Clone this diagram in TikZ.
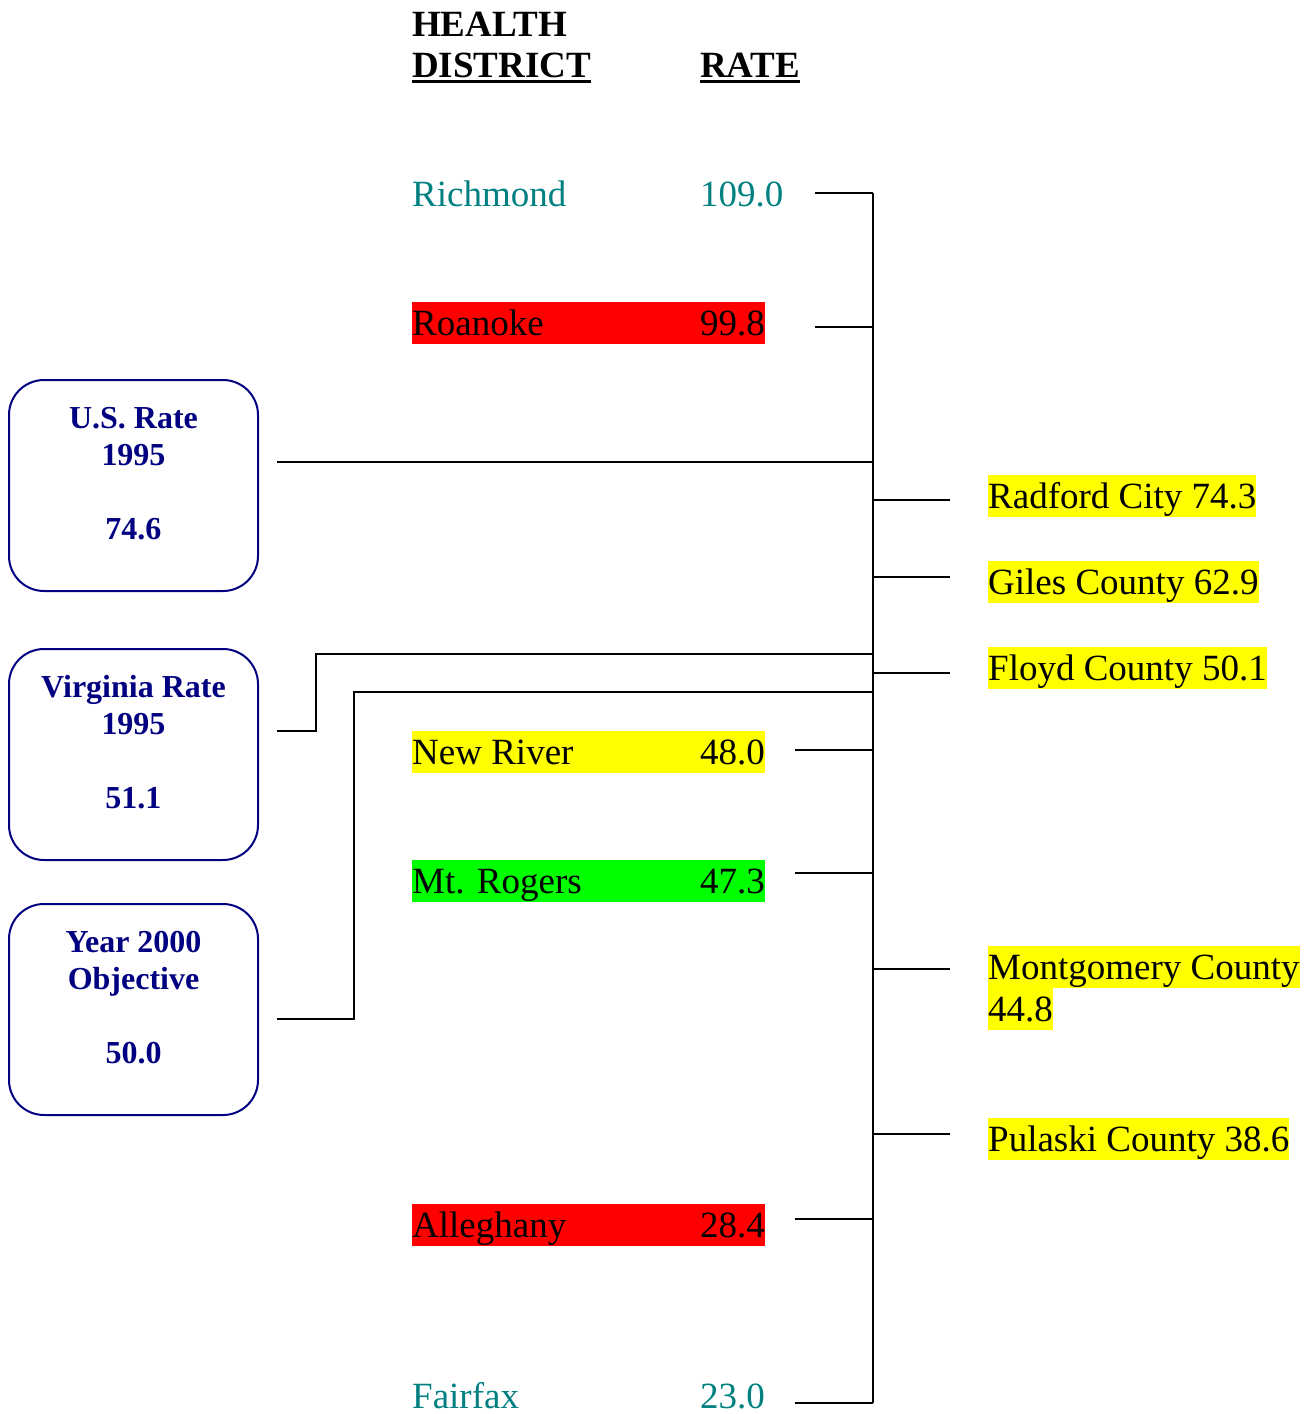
\documentclass[tikz,border=0pt]{standalone}
\usepackage{fontspec}
\setmainfont{Liberation Serif}
\definecolor{navyc}{RGB}{0,0,128}
\definecolor{tealc}{RGB}{0,128,128}
\definecolor{hlred}{RGB}{255,0,0}
\definecolor{hlyel}{RGB}{255,255,0}
\definecolor{hlgrn}{RGB}{0,255,0}
\newcommand\mystrut{\rule[-8.5pt]{0pt}{42pt}}
\newcommand\myul[1]{\setbox0\hbox{#1}\rlap{\rule[-6pt]{\wd0}{3pt}}\box0}
\newcommand\rowtext[2]{\mystrut\makebox[288pt][l]{#1}#2}
\newcommand\plainrow[2]{\makebox[288pt][l]{#1}#2}
\newcommand\hlline[1]{{\fboxsep=0pt\colorbox{hlyel}{\mystrut #1}}}
\begin{document}
\begin{tikzpicture}[x=1pt,y=-1pt,
  bigtxt/.style={font=\fontsize{37}{42}\selectfont, inner sep=0pt, anchor=base west},
  headtxt/.style={font=\fontsize{37}{42}\selectfont\bfseries, inner sep=0pt, anchor=base west},
  boxtxt/.style={font=\fontsize{32}{37}\selectfont\bfseries, text=navyc, align=center, inner sep=0pt},
  ratebox/.style={draw=navyc, line width=2pt, rounded corners=35pt, minimum width=249pt, minimum height=211pt, inner sep=0pt},
  conn/.style={line width=2pt, black}
]
\useasboundingbox (0,0) rectangle (1316,1414);

% headers
\node[headtxt] (hh) at (412,36) {HEALTH};
\node[headtxt] (hd) at (412,77) {\myul{DISTRICT}};
\node[headtxt] (hr) at (700,77) {\myul{RATE}};

% district rows
\node[bigtxt, text=tealc] (rich) at (412,206) {\plainrow{Richmond}{109.0}};
\node[bigtxt, fill=hlred] (roan) at (412,335) {\rowtext{Roanoke}{99.8}};
\node[bigtxt, fill=hlyel] (newr) at (412,764) {\rowtext{New River}{48.0}};
\node[bigtxt, fill=hlgrn] (mtro) at (412,893) {\rowtext{Mt. Rogers}{47.3}};
\node[bigtxt, fill=hlred] (alle) at (412,1237) {\rowtext{Alleghany}{28.4}};
\node[bigtxt, text=tealc] (fair) at (412,1408) {\plainrow{Fairfax}{23.0}};

% right side labels
\node[bigtxt, fill=hlyel] (radf) at (988,508) {\mystrut Radford City 74.3};
\node[bigtxt, fill=hlyel] (gile) at (988,594) {\mystrut Giles County 62.9};
\node[bigtxt, fill=hlyel] (floy) at (988,680) {\mystrut Floyd County 50.1};
\node[font=\fontsize{37}{42}\selectfont, inner sep=0pt, anchor=north west, align=left] (mont) at (988,946) {\hlline{Montgomery County}\\\hlline{44.8}};
\node[bigtxt, fill=hlyel] (pula) at (988,1151) {\mystrut Pulaski County 38.6};

% left boxes
\node[ratebox] (usbox) at (133.5,485.5) {};
\node[boxtxt] (ustxt) at (133.5,473.5) {U.S. Rate\\1995\\[37pt]74.6};
\node[ratebox] (vabox) at (133.5,754.5) {};
\node[boxtxt] (vatxt) at (133.5,742.5) {Virginia Rate\\1995\\[37pt]51.1};
\node[ratebox] (yrbox) at (133.5,1009.5) {};
\node[boxtxt] (yrtxt) at (133.5,997.5) {Year 2000\\Objective\\[37pt]50.0};

% spine
\coordinate (sptop) at (873,193);
\coordinate (spbot) at (873,1403);
\draw[conn] (sptop) -- (spbot);

% left ticks
\coordinate (trich) at (815,193);
\coordinate (troan) at (815,327);
\coordinate (tnewr) at (795,750);
\coordinate (tmtro) at (795,873);
\coordinate (talle) at (795,1219);
\coordinate (tfair) at (795,1403);
\foreach \c in {trich,troan,tnewr,tmtro,talle,tfair}
  \draw[conn] (\c) -- (\c -| sptop);

% right ticks
\coordinate (rradf) at (950,500);
\coordinate (rgile) at (950,577);
\coordinate (rfloy) at (950,673);
\coordinate (rmont) at (950,969);
\coordinate (rpula) at (950,1134);
\foreach \c in {rradf,rgile,rfloy,rmont,rpula}
  \draw[conn] (\c -| sptop) -- (\c);

% box connectors
\coordinate (usend) at (277,462);
\draw[conn] (usend) -- (usend -| sptop);
\coordinate (vaend) at (277,731);
\coordinate (vaturn) at (316,654);
\draw[conn] (vaend) -| (vaturn) -- (vaturn -| sptop);
\coordinate (yrend) at (277,1019);
\coordinate (yrturn) at (354,692);
\draw[conn] (yrend) -| (yrturn) -- (yrturn -| sptop);
\end{tikzpicture}
\end{document}
